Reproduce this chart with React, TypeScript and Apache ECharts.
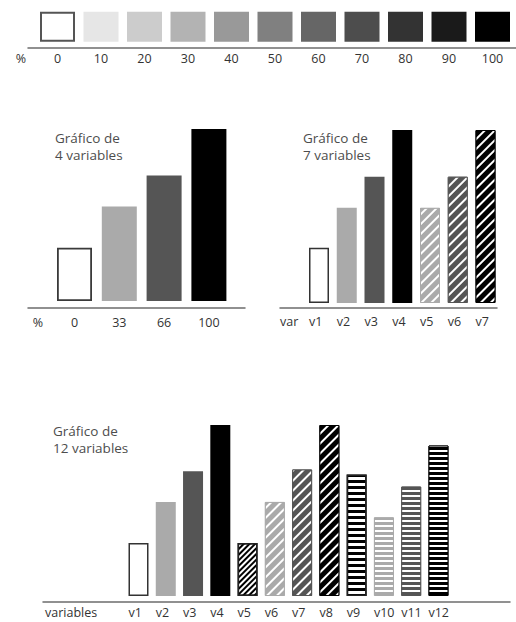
import React, { useEffect, useRef } from 'react';
import * as echarts from 'echarts';

// ---------- data ----------
const swatchLevels = ['0', '10', '20', '30', '40', '50', '60', '70', '80', '90', '100'];
const swatchShades = ['#ffffff', '#e6e6e6', '#cccccc', '#b3b3b3', '#999999', '#808080', '#666666', '#4d4d4d', '#333333', '#1a1a1a', '#000000'];
const swatchValues = [1, 1, 1, 1, 1, 1, 1, 1, 1, 1, 1];
const swatchAxisTitle = '%';

const chart1Title = 'Gráfico de\n4 variables';
const chart1Categories = ['0', '33', '66', '100'];
const chart1Values = [31, 55, 73, 100];
const chart1AxisTitle = '%';

const chart2Title = 'Gráfico de\n7 variables';
const chart2Categories = ['v1', 'v2', 'v3', 'v4', 'v5', 'v6', 'v7'];
const chart2Values = [32, 55, 73, 100, 55, 73, 100];
const chart2AxisTitle = 'var';

const chart3Title = 'Gráfico de\n12 variables';
const chart3Categories = ['v1', 'v2', 'v3', 'v4', 'v5', 'v6', 'v7', 'v8', 'v9', 'v10', 'v11', 'v12'];
const chart3Values = [31, 55, 73, 100, 31, 55, 74, 100, 71, 46, 64, 88];
const chart3AxisTitle = 'variables';

// ---------- styles ----------
const FONT = '"Open Sans", "DejaVu Sans", sans-serif';
const LABEL_COLOR = '#333333';
const AXIS_COLOR = '#6c6c6c';
const LABEL_SIZE = 12.5;

const outlined = (bw = 1.5, bc = '#333333') => ({ color: '#ffffff', borderColor: bc, borderWidth: bw });
const solid = (c: string) => ({ color: c });
const diagDecal = (stripe: string, dash: number[]) => ({
  symbol: 'rect', symbolSize: 1, dashArrayX: [1, 0], dashArrayY: dash, rotation: -Math.PI / 4, color: stripe,
});
const horizDecal = (stripe: string, dash: number[]) => ({
  symbol: 'rect', symbolSize: 1, dashArrayX: [1, 0], dashArrayY: dash, rotation: 0, color: stripe,
});
const diag = (c: string) => ({ color: c, borderColor: c, borderWidth: 1, decal: diagDecal('#ffffff', [1.5, 4.5]) });
const horiz = (c: string) => ({ color: c, borderColor: c, borderWidth: 1, decal: horizDecal('#ffffff', [1.5, 3]) });

const swatchStyles = swatchShades.map((c, i) => (i === 0 ? outlined(2, '#555555') : solid(c)));
const chart1Styles = [outlined(1.8, '#3a3a3a'), solid('#aaaaaa'), solid('#555555'), solid('#000000')];
const chart2Styles = [outlined(), solid('#aaaaaa'), solid('#555555'), solid('#000000'), diag('#aaaaaa'), diag('#555555'), diag('#000000')];
const chart3Styles = [
  outlined(), solid('#aaaaaa'), solid('#555555'), solid('#000000'),
  { ...outlined(1.5, '#222222'), decal: diagDecal('#000000', [2, 2]) },
  diag('#aaaaaa'), diag('#555555'), diag('#000000'),
  { ...outlined(1.5, '#222222'), decal: horizDecal('#000000', [2.5, 2.5]) },
  horiz('#aaaaaa'), horiz('#555555'), horiz('#000000'),
];

// ---------- layout (pixels) ----------
type Layout = {
  firstCenter: number; pitch: number; axisStart: number; axisEnd: number;
  lineY: number; zeroY: number; topY: number; barWidth: number;
  labelMargin: number; labelAlign: 'center' | 'left'; axisTitleX?: number;
};
const LAYOUTS: Layout[] = [
  { firstCenter: 57.5, pitch: 43.5, axisStart: 28, axisEnd: 516, lineY: 47.7, zeroY: 41.7, topY: 11.7, barWidth: 35, labelMargin: 4, labelAlign: 'center' },
  { firstCenter: 74.5, pitch: 44.8, axisStart: 28, axisEnd: 245, lineY: 307.8, zeroY: 301, topY: 129, barWidth: 35, labelMargin: 8, labelAlign: 'center', axisTitleX: 38 },
  { firstCenter: 319, pitch: 27.75, axisStart: 280, axisEnd: 497, lineY: 308, zeroY: 303, topY: 130, barWidth: 20, labelMargin: 6.5, labelAlign: 'left', axisTitleX: 280 },
  { firstCenter: 138.5, pitch: 27.27, axisStart: 43, axisEnd: 510, lineY: 601.5, zeroY: 596, topY: 425, barWidth: 20, labelMargin: 4.5, labelAlign: 'left', axisTitleX: 45 },
];

const CHARTS = [
  { categories: swatchLevels, values: swatchValues, styles: swatchStyles, axisTitle: swatchAxisTitle, max: 1 },
  { categories: chart1Categories, values: chart1Values, styles: chart1Styles, axisTitle: chart1AxisTitle, max: 100 },
  { categories: chart2Categories, values: chart2Values, styles: chart2Styles, axisTitle: chart2AxisTitle, max: 100 },
  { categories: chart3Categories, values: chart3Values, styles: chart3Styles, axisTitle: chart3AxisTitle, max: 100 },
];

const TITLES = [
  { text: chart1Title, left: 55, top: 130 },
  { text: chart2Title, left: 303, top: 130 },
  { text: chart3Title, left: 53, top: 423 },
];

function buildOption() {
  const grid: any[] = [];
  const xAxis: any[] = [];
  const yAxis: any[] = [];
  const series: any[] = [];

  CHARTS.forEach((c, i) => {
    const L = LAYOUTS[i];
    const toUnit = (px: number) => (px - L.firstCenter) / L.pitch;
    const labelShift = L.labelAlign === 'left' ? L.barWidth / 2 / L.pitch : 0;
    const labels: { pos: number; text: string }[] = c.categories.map((t, k) => ({ pos: k - labelShift, text: t }));
    if (L.axisTitleX !== undefined) labels.unshift({ pos: toUnit(L.axisTitleX), text: c.axisTitle });

    const pxPerUnit = (L.zeroY - L.topY) / c.max;
    const yMin = -(L.lineY - L.zeroY) / pxPerUnit;

    grid.push({ left: L.axisStart, top: L.topY, width: L.axisEnd - L.axisStart, height: L.lineY - L.topY, containLabel: false });
    const ax: any = {
      gridIndex: i,
      type: 'value',
      min: toUnit(L.axisStart),
      max: toUnit(L.axisEnd),
      splitLine: { show: false },
      axisTick: { show: false },
      axisLine: { show: true, onZero: false, lineStyle: { color: AXIS_COLOR, width: 1.5 } },
      axisLabel: {
        customValues: labels.map((l) => l.pos),
        formatter: (v: number) => {
          let best = labels[0];
          labels.forEach((l) => { if (Math.abs(l.pos - v) < Math.abs(best.pos - v)) best = l; });
          return best.text;
        },
        align: L.labelAlign,
        color: LABEL_COLOR,
        fontSize: LABEL_SIZE,
        fontFamily: FONT,
        margin: L.labelMargin,
        hideOverlap: false,
      },
    };
    if (L.axisTitleX === undefined) {
      ax.name = c.axisTitle;
      ax.nameLocation = 'start';
      ax.nameGap = 2;
      ax.nameTextStyle = { color: LABEL_COLOR, fontSize: LABEL_SIZE, fontFamily: FONT, verticalAlign: 'top', padding: [4, 0, 0, 0] };
    }
    xAxis.push(ax);
    yAxis.push({ gridIndex: i, type: 'value', min: yMin, max: c.max, show: false });
    series.push({
      type: 'bar',
      xAxisIndex: i,
      yAxisIndex: i,
      barWidth: L.barWidth,
      clip: false,
      silent: true,
      data: c.values.map((v, k) => ({ value: [k, v], itemStyle: c.styles[k] })),
    });
  });

  return {
    animation: false,
    backgroundColor: '#ffffff',
    textStyle: { fontFamily: FONT },
    title: TITLES.map((t) => ({
      text: t.text,
      left: t.left,
      top: t.top,
      padding: 0,
      textStyle: { fontSize: 13.5, fontWeight: 'normal', color: '#4d4d4d', fontFamily: FONT, lineHeight: 16.5 },
    })),
    grid,
    xAxis,
    yAxis,
    series,
  };
}

export default function App() {
  const ref = useRef<HTMLDivElement>(null);
  useEffect(() => {
    if (!ref.current) return;
    const chart = echarts.init(ref.current, undefined, { renderer: 'svg' });
    chart.setOption(buildOption() as any);
    return () => chart.dispose();
  }, []);
  return <div ref={ref} style={{ position: 'absolute', left: 0, top: 0, width: 516, height: 622 }} />;
}
